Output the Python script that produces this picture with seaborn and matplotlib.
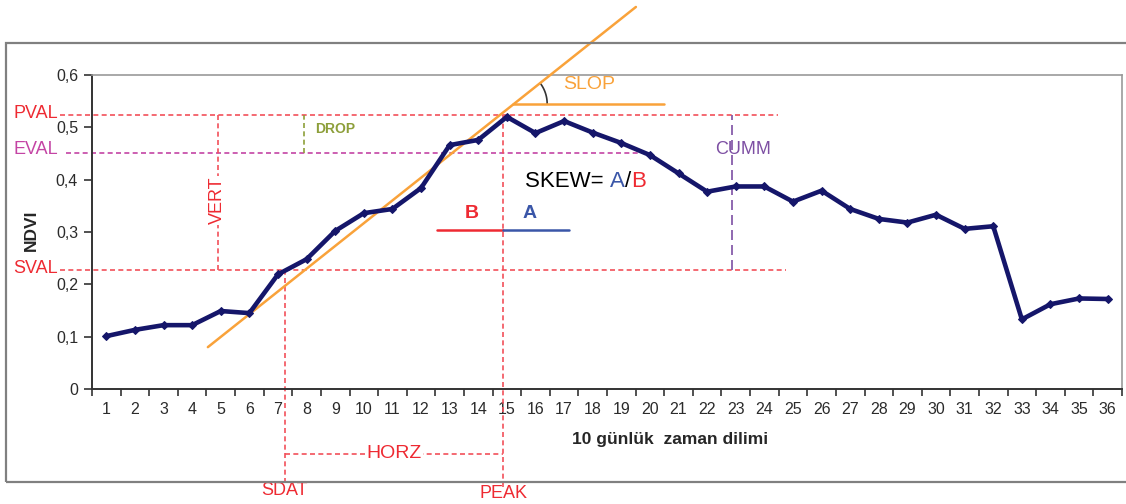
import numpy as np
import matplotlib
matplotlib.use("Agg")
import matplotlib.pyplot as plt
from matplotlib.patches import Rectangle
import seaborn as sns
import pandas as pd

# --- data -----------------------------------------------------------------
periods = list(range(1, 37))
ndvi = [0.101, 0.113, 0.122, 0.122, 0.149, 0.145, 0.219, 0.248, 0.302, 0.336,
        0.344, 0.384, 0.466, 0.476, 0.520, 0.489, 0.512, 0.490, 0.470, 0.447,
        0.412, 0.377, 0.387, 0.387, 0.358, 0.379, 0.344, 0.325, 0.318, 0.333,
        0.306, 0.311, 0.133, 0.162, 0.173, 0.172]
y_ticks = [0, 0.1, 0.2, 0.3, 0.4, 0.5, 0.6]
y_tick_labels = ["0", "0,1", "0,2", "0,3", "0,4", "0,5", "0,6"]

# phenology metrics
PVAL, EVAL, SVAL = 0.523, 0.450, 0.227
SDAT, PEAK = 7.25, 14.87
VERT_X, DROP_X, CUMM_X = 4.90, 7.91, 22.87
slope_pts = ([4.55, 19.51], [0.080, 0.730])
slop_flat = ([15.22, 20.49], 0.545)

# --- colours --------------------------------------------------------------
NAVY = "#15166a"
RED = "#ee2a32"
RED_LINE = "#f2505a"
MAGENTA = "#c444a4"
PURPLE = "#7d4fa3"
ORANGE = "#f9a23a"
OLIVE = "#8d9f3a"
BLUE = "#3a56a8"

sns.set_style("ticks")
plt.rcParams["font.family"] = ["Liberation Sans", "DejaVu Sans"]

fig = plt.figure(figsize=(11.26, 5.04), dpi=100)
ax = fig.add_axes([92 / 1126, 1 - 389 / 504, 1030 / 1126, 314 / 504])

df = pd.DataFrame({"period": periods, "ndvi": ndvi})
sns.lineplot(data=df, x="period", y="ndvi", ax=ax, color=NAVY, lw=3.3,
             marker="D", markersize=4.5, markeredgecolor=NAVY, zorder=5)

ax.set_xlim(0.5, 36.5)
ax.set_ylim(0, 0.6)
ax.set_yticks(y_ticks)
ax.set_yticklabels(y_tick_labels, fontsize=11.5, color="#2b2b2b")
ax.set_xticks(np.arange(0.5, 37, 1))
ax.set_xticklabels([])
ax.set_xticks(periods, minor=True)
ax.set_xticklabels([str(p) for p in periods], minor=True, fontsize=11.5, color="#2b2b2b")
ax.tick_params(axis="x", which="major", length=5, width=1.2, color="#333333")
ax.tick_params(axis="x", which="minor", length=0, pad=9)
ax.tick_params(axis="y", length=6, width=1.2, color="#333333", pad=4)
for s in ["left", "bottom"]:
    ax.spines[s].set_color("#333333")
    ax.spines[s].set_linewidth(1.4)
for s in ["top", "right"]:
    ax.spines[s].set_color("#999999")
    ax.spines[s].set_linewidth(1.2)

ax.set_xlabel("10 günlük  zaman dilimi", fontsize=12.5, fontweight="bold", va="top")
ax.xaxis.set_label_coords(0.561, -0.138)
ax.set_ylabel("NDVI", fontsize=12.5, fontweight="bold")
ax.yaxis.set_label_coords(-0.052, 0.506)

dash = (0, (3, 2))
kw = dict(clip_on=False, lw=1.2, ls=dash)

# horizontal reference lines
ax.plot([-0.62, 24.48], [PVAL, PVAL], color=RED_LINE, **kw)
ax.plot([-0.41, 19.9], [EVAL, EVAL], color=MAGENTA, **kw)
ax.plot([-0.62, 24.76], [SVAL, SVAL], color=RED_LINE, **kw)

# vertical reference lines
ax.plot([VERT_X, VERT_X], [SVAL, PVAL], color=RED_LINE, **kw)
ax.plot([DROP_X, DROP_X], [EVAL, PVAL], color=OLIVE, **kw)
ax.plot([CUMM_X, CUMM_X], [SVAL, PVAL], color=PURPLE, clip_on=False, lw=1.2, ls=(0, (6, 3)))
ax.plot([SDAT, SDAT], [-0.180, SVAL], color=RED_LINE, **kw)
ax.plot([PEAK, PEAK], [-0.187, PVAL], color=RED_LINE, **kw)
ax.plot([SDAT, PEAK], [-0.124, -0.124], color=RED_LINE, **kw)

# slope tangent and flat line
ax.plot(slope_pts[0], slope_pts[1], color=ORANGE, lw=1.8, clip_on=False, zorder=4)
ax.plot(slop_flat[0], [slop_flat[1]] * 2, color=ORANGE, lw=1.8, clip_on=False, zorder=4)

# small angle arc, built in pixel units so it stays round
px_x, px_y = 1030 / 36, 314 / 0.6
t = np.radians(np.linspace(0, 36, 30))
r = 34
ax.plot(slop_flat[0][0] + r * np.cos(t) / px_x, slop_flat[1] + r * np.sin(t) / px_y,
        color="#333333", lw=1.2, clip_on=False)

# skewness bars
ax.plot([12.56, PEAK], [0.304, 0.304], color=RED, lw=1.8)
ax.plot([PEAK, 17.17], [0.304, 0.304], color=BLUE, lw=1.8)

# --- labels ---------------------------------------------------------------
tkw = dict(clip_on=False, va="center")
ax.text(-0.69, 0.527, "PVAL", color=RED, ha="right", fontsize=13, **tkw)
ax.text(-0.69, 0.457, "EVAL", color=MAGENTA, ha="right", fontsize=13, **tkw)
ax.text(-0.69, 0.231, "SVAL", color=RED, ha="right", fontsize=13, **tkw)
ax.text(VERT_X, 0.361, "VERT", color=RED, ha="center", rotation=90, fontsize=13,
        bbox=dict(fc="white", ec="none", pad=0.5), **tkw)
ax.text(8.29, 0.497, "DROP", color=OLIVE, ha="left", fontsize=10, fontweight="bold", **tkw)
ax.text(16.96, 0.581, "SLOP", color=ORANGE, ha="left", fontsize=14, **tkw)
ax.text(22.28, 0.457, "CUMM", color=PURPLE, ha="left", fontsize=13, **tkw)
ax.text(11.06, -0.124, "HORZ", color=RED, ha="center", fontsize=14,
        bbox=dict(fc="white", ec="none", pad=0.5), **tkw)
ax.text(7.21, -0.193, "SDAT", color=RED, ha="center", fontsize=13, **tkw)
ax.text(14.87, -0.199, "PEAK", color=RED, ha="center", fontsize=13, **tkw)
ax.text(13.78, 0.336, "B", color=RED, ha="center", fontsize=14, fontweight="bold", **tkw)
ax.text(15.81, 0.336, "A", color=BLUE, ha="center", fontsize=14, fontweight="bold", **tkw)

skew = ax.text(15.63, 0.396, "SKEW= ", color="black", ha="left", fontsize=16, **tkw)
part = ax.annotate("A", xy=(1, 0), xycoords=skew, va="bottom", color=BLUE, fontsize=16)
part = ax.annotate("/", xy=(1, 0), xycoords=part, va="bottom", color="black", fontsize=16)
ax.annotate("B", xy=(1, 0), xycoords=part, va="bottom", color=RED, fontsize=16)

# outer chart frame
fig.patches.append(Rectangle((6 / 1126, 1 - 482 / 504), 1.1, 439 / 504,
                             transform=fig.transFigure, fill=False,
                             ec="#808080", lw=1.6, clip_on=False))

fig.savefig("out.png", dpi=100)
